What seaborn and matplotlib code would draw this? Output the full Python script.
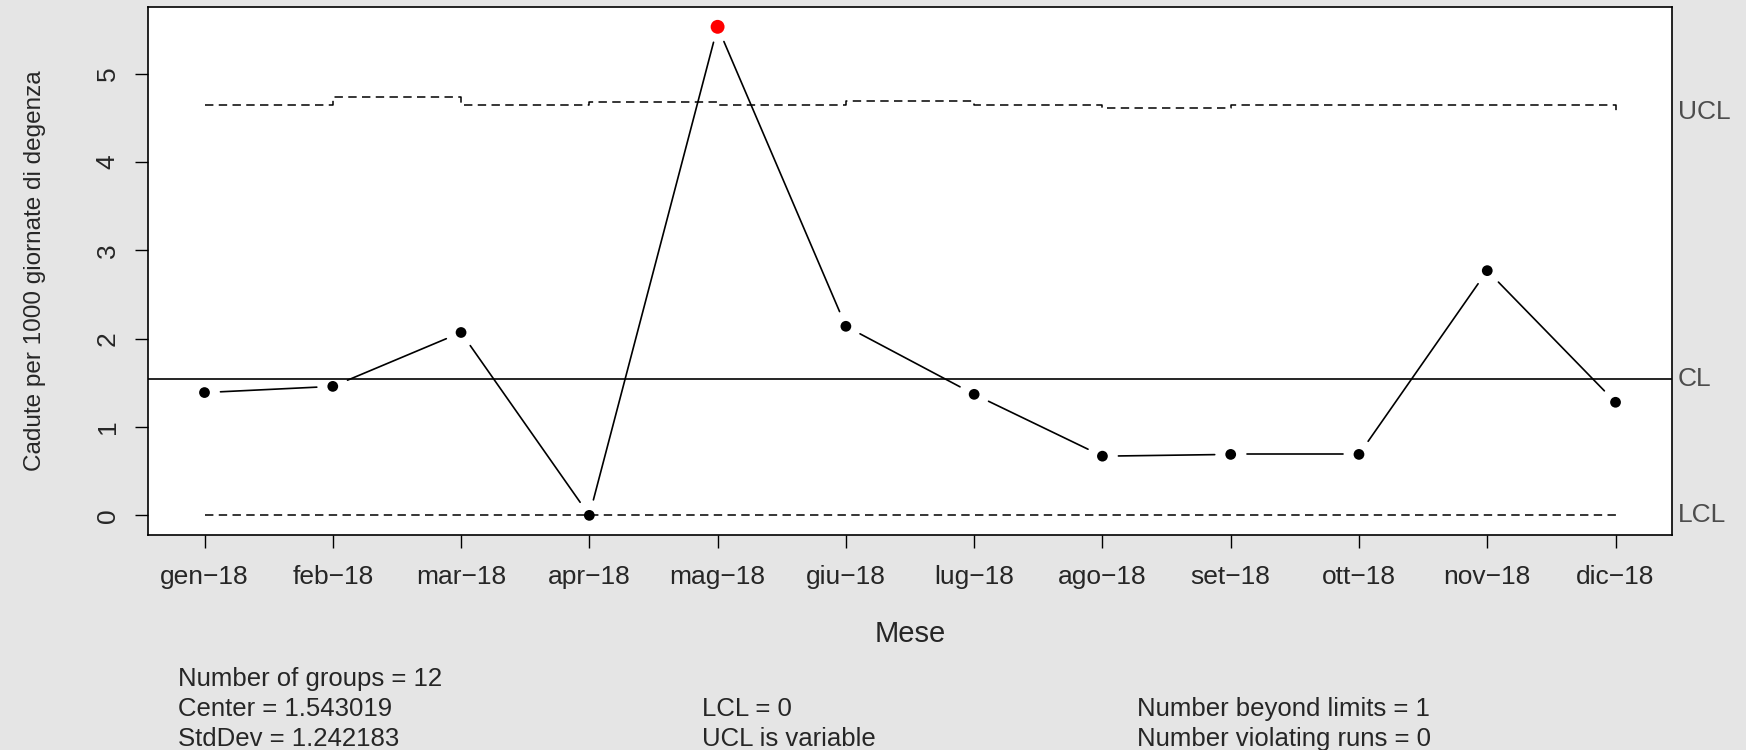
"""u-chart of monthly falls per 1000 patient days (qcc style) redrawn with seaborn."""

import matplotlib
matplotlib.use("Agg")
import matplotlib.pyplot as plt
import numpy as np
import pandas as pd
import seaborn as sns

# --- data ---
months = ["gen", "feb", "mar", "apr", "mag", "giu", "lug", "ago", "set", "ott", "nov", "dic"]
month_labels = [f"{m}\u221218" for m in months]
falls_rate = [1.39, 1.46, 2.07, 0.00, 5.53, 2.14, 1.37, 0.67, 0.69, 0.69, 2.77, 1.28]
ucl = [4.65, 4.74, 4.65, 4.68, 4.65, 4.69, 4.65, 4.61, 4.64, 4.64, 4.64, 4.57]
lcl = [0, 0, 0, 0, 0, 0, 0, 0, 0, 0, 0, 0]
center = 1.543019

stats_col1 = ["Number of groups = 12", "Center = 1.543019", "StdDev = 1.242183"]
stats_col2 = ["LCL = 0", "UCL is variable"]
stats_col3 = ["Number beyond limits = 1", "Number violating runs = 0"]

sns.set_style("white")
plt.rcParams["font.family"] = ["Liberation Sans", "DejaVu Sans"]

df = pd.DataFrame({
    "idx": np.arange(1, len(months) + 1),
    "rate": falls_rate,
    "ucl": ucl,
    "lcl": lcl,
})
df["beyond"] = (df["rate"] > df["ucl"]) | (df["rate"] < df["lcl"])

fig = plt.figure(figsize=(17.46, 7.5), dpi=100, facecolor="#e5e5e5")
ax = fig.add_axes([0.0848, 0.2868, 0.8728, 0.7035])
ax.set_facecolor("white")

# R-style axis extension (4 %)
xr = df["idx"].max() - df["idx"].min()
ax.set_xlim(df["idx"].min() - 0.04 * xr, df["idx"].max() + 0.04 * xr)
ylo = min(df["rate"].min(), df["lcl"].min())
yhi = max(df["rate"].max(), df["ucl"].max())
ax.set_ylim(ylo - 0.04 * (yhi - ylo), yhi + 0.04 * (yhi - ylo))

# control limits
ax.axhline(center, color="black", lw=1.2)
sns.lineplot(data=df, x="idx", y="ucl", drawstyle="steps-post", color="black",
             lw=1.1, dashes=False, ax=ax)
sns.lineplot(data=df, x="idx", y="lcl", drawstyle="steps-post", color="black",
             lw=1.1, dashes=False, ax=ax)
for ln in ax.lines[1:]:
    ln.set_linestyle((0, (5.5, 3.5)))

# type="b": segments stop short of each point
pts = ax.transData.transform(df[["idx", "rate"]].to_numpy(dtype=float))
gap = 16.0
rows = []
for i in range(len(pts) - 1):
    d = pts[i + 1] - pts[i]
    length = np.hypot(*d)
    if length <= 2 * gap:
        continue
    u = d / length
    a = ax.transData.inverted().transform(np.array([pts[i] + u * gap, pts[i + 1] - u * gap]))
    rows.append({"x": a[0, 0], "y": a[0, 1], "seg": i})
    rows.append({"x": a[1, 0], "y": a[1, 1], "seg": i})
seg_df = pd.DataFrame(rows)
sns.lineplot(data=seg_df, x="x", y="y", units="seg", estimator=None, sort=False,
             color="black", lw=1.2, ax=ax)

sns.scatterplot(data=df[~df["beyond"]], x="idx", y="rate", color="black", s=60,
                edgecolor="none", ax=ax, zorder=5)
sns.scatterplot(data=df[df["beyond"]], x="idx", y="rate", color="red", s=100,
                edgecolor="none", ax=ax, zorder=5)

# axes cosmetics
ax.set_xticks(df["idx"])
ax.set_xticklabels(month_labels)
ax.set_yticks([0, 1, 2, 3, 4, 5])
ax.tick_params(axis="both", direction="out", length=9.5, width=1.0, color="black",
               labelsize=19, bottom=True, left=True)
ax.tick_params(axis="x", pad=12)
ax.tick_params(axis="y", pad=11)
for lab in ax.get_yticklabels():
    lab.set_rotation(90)
    lab.set_va("center")
for sp in ax.spines.values():
    sp.set_color("black")
    sp.set_linewidth(1.2)
ax.set_xlabel("Mese", fontsize=21)
ax.xaxis.set_label_coords(0.5, -0.162)
ax.set_ylabel("Cadute per 1000 giornate di degenza", fontsize=17.5)
ax.yaxis.set_label_coords(-0.067, 0.5)

lab_tf = ax.get_yaxis_transform()
for name, val in [("UCL", df["ucl"].iloc[-1]), ("CL", center), ("LCL", df["lcl"].iloc[-1])]:
    ax.text(1.004, val, name, transform=lab_tf, va="center", ha="left",
            fontsize=19, color="#4d4d4d", clip_on=False)

# summary block under the chart
line_y = [1 - 679 / 750, 1 - 709 / 750, 1 - 739 / 750]
for txt, yy in zip(stats_col1, line_y):
    fig.text(178 / 1746, yy, txt, fontsize=18.5, va="center", ha="left")
for txt, yy in zip(stats_col2, line_y[1:]):
    fig.text(702 / 1746, yy, txt, fontsize=18.5, va="center", ha="left")
for txt, yy in zip(stats_col3, line_y[1:]):
    fig.text(1137 / 1746, yy, txt, fontsize=18.5, va="center", ha="left")

fig.savefig("out.png", dpi=100, facecolor=fig.get_facecolor())
